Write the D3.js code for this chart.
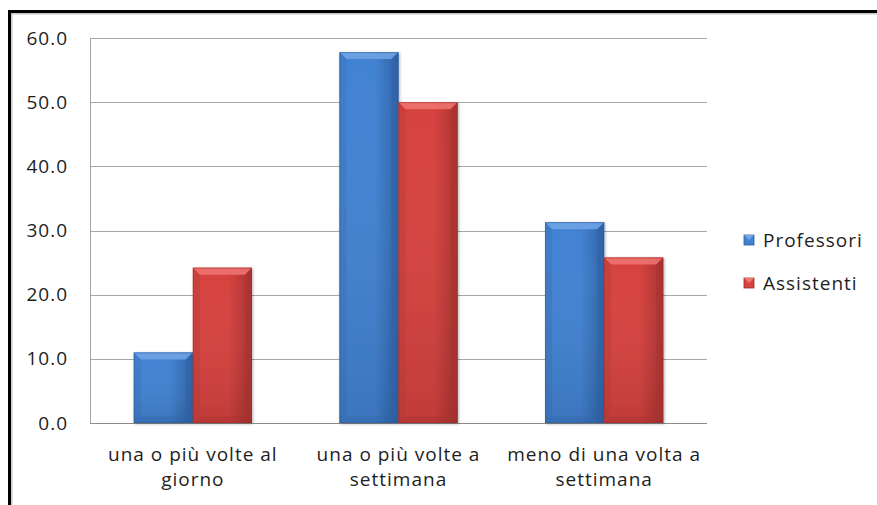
<!DOCTYPE html>
<html>
<head>
<meta charset="utf-8">
<script src="https://cdn.jsdelivr.net/npm/d3@7"></script>
<style>
  body { margin: 0; background: #fff; }
  svg { display: block; font-family: "Open Sans", sans-serif; }
</style>
</head>
<body>
<div id="chart"></div>
<script>
var categories = ["una o più volte al giorno", "una o più volte a settimana", "meno di una volta a settimana"];
var seriesNames = ["Professori", "Assistenti"];
var professori = [11.0, 57.8, 31.3];
var assistenti = [24.2, 50.0, 25.8];
var yTicks = [0, 10, 20, 30, 40, 50, 60];

var W = 877, H = 505;
var margin = {top: 38, left: 90, right: 170, bottom: 82};
var FONT = "'Open Sans', sans-serif";
var FS = 19, LS = 1;

var svg = d3.select("#chart").append("svg")
    .attr("width", W)
    .attr("height", H);

var defs = svg.append("defs");

// colours for each series: light, mid, dark
var palette = {
  Professori: {light: "#72a6e6", mid: "#4282d2", dark: "#2e63a6", edge: "#2a5a98"},
  Assistenti: {light: "#f07673", mid: "#d6423f", dark: "#a93230", edge: "#9c2c2a"}
};

seriesNames.forEach(function(s) {
  var c = palette[s];
  var g = defs.append("linearGradient").attr("id", "grad-" + s)
      .attr("x1", 0).attr("x2", 1).attr("y1", 0).attr("y2", 0);
  g.append("stop").attr("offset", "0%").attr("stop-color", c.mid);
  g.append("stop").attr("offset", "60%").attr("stop-color", c.mid);
  g.append("stop").attr("offset", "100%").attr("stop-color", c.dark);
  var gv = defs.append("linearGradient").attr("id", "vgrad-" + s)
      .attr("x1", 0).attr("x2", 0).attr("y1", 0).attr("y2", 1);
  gv.append("stop").attr("offset", "0%").attr("stop-color", "#fff").attr("stop-opacity", 0.0);
  gv.append("stop").attr("offset", "100%").attr("stop-color", "#000").attr("stop-opacity", 0.1);
});

var shadow = defs.append("filter").attr("id", "shadow")
    .attr("x", "-20%").attr("y", "-5%").attr("width", "140%").attr("height", "110%");
shadow.append("feGaussianBlur").attr("in", "SourceAlpha").attr("stdDeviation", 1.5);
shadow.append("feOffset").attr("dx", 1).attr("dy", 1).attr("result", "b");
shadow.append("feComponentTransfer").append("feFuncA").attr("type", "linear").attr("slope", 0.3);
var merge = shadow.append("feMerge");
merge.append("feMergeNode");
merge.append("feMergeNode").attr("in", "SourceGraphic");

// chart frame (black border top and left, with light shadow)
svg.append("path")
    .attr("d", "M10," + H + "V12H" + W)
    .attr("fill", "none")
    .attr("stroke", "#c8c8c8")
    .attr("stroke-width", 3)
    .attr("transform", "translate(1,1)");
svg.append("path")
    .attr("d", "M9.5," + H + "V11.5H" + W)
    .attr("fill", "none")
    .attr("stroke", "#000")
    .attr("stroke-width", 3);

var x0 = d3.scaleBand()
    .domain(categories)
    .range([margin.left, 707]);

var x1 = d3.scaleBand()
    .domain(seriesNames)
    .range([0, x0.bandwidth()])
    .paddingOuter(0.74);

var y = d3.scaleLinear()
    .domain([0, 60])
    .range([423, margin.top]);

// grid lines
svg.append("g")
  .selectAll("line")
  .data(yTicks)
  .join("line")
    .attr("x1", margin.left)
    .attr("x2", 707)
    .attr("y1", function(d) { return Math.round(y(d)) + 0.5; })
    .attr("y2", function(d) { return Math.round(y(d)) + 0.5; })
    .attr("stroke", function(d) { return d === 0 ? "#8c8c8c" : "#a6a6a6"; })
    .attr("stroke-width", 1);

// y axis line
svg.append("line")
    .attr("x1", margin.left + 0.5).attr("x2", margin.left + 0.5)
    .attr("y1", y(60)).attr("y2", y(0))
    .attr("stroke", "#a6a6a6");

// y tick labels
var yAxis = d3.axisLeft(y)
    .tickValues(yTicks)
    .tickFormat(d3.format(".1f"))
    .tickSize(0)
    .tickPadding(22);
var ya = svg.append("g")
    .attr("transform", "translate(" + margin.left + ",0)")
    .call(yAxis);
ya.select(".domain").remove();
ya.selectAll("text")
    .attr("font-family", FONT)
    .attr("font-size", FS)
    .attr("letter-spacing", LS)
    .attr("fill", "#1e1e1e");

// bars
var rows = categories.map(function(c, i) {
  return {cat: c, values: [{s: "Professori", v: professori[i]}, {s: "Assistenti", v: assistenti[i]}]};
});

var groups = svg.append("g")
  .selectAll("g")
  .data(rows)
  .join("g")
    .attr("transform", function(d) { return "translate(" + x0(d.cat) + ",0)"; });

var bars = groups.selectAll("g.bar")
  .data(function(d) { return d.values; })
  .join("g")
    .attr("class", "bar")
    .attr("filter", "url(#shadow)");

bars.each(function(d) {
  var g = d3.select(this);
  var c = palette[d.s];
  var bx = x1(d.s), bw = x1.bandwidth();
  var by = y(d.v), bh = y(0) - y(d.v);
  var b = 7; // bevel size
  g.append("rect")
      .attr("x", bx).attr("y", by).attr("width", bw).attr("height", bh)
      .attr("fill", "url(#grad-" + d.s + ")");
  g.append("rect")
      .attr("x", bx).attr("y", by).attr("width", bw).attr("height", bh)
      .attr("fill", "url(#vgrad-" + d.s + ")");
  // top bevel
  g.append("path")
      .attr("d", "M" + bx + "," + by + "H" + (bx + bw) + "L" + (bx + bw - b) + "," + (by + b) + "H" + (bx + b) + "Z")
      .attr("fill", c.light).attr("opacity", 0.85);
  // left bevel
  g.append("path")
      .attr("d", "M" + bx + "," + by + "L" + (bx + b) + "," + (by + b) + "V" + (by + bh - b) + "L" + bx + "," + (by + bh) + "Z")
      .attr("fill", c.dark).attr("opacity", 0.25);
  // right bevel
  g.append("path")
      .attr("d", "M" + (bx + bw) + "," + by + "L" + (bx + bw - b) + "," + (by + b) + "V" + (by + bh - b) + "L" + (bx + bw) + "," + (by + bh) + "Z")
      .attr("fill", c.dark).attr("opacity", 0.6);
  // bottom bevel
  g.append("path")
      .attr("d", "M" + bx + "," + (by + bh) + "H" + (bx + bw) + "L" + (bx + bw - b) + "," + (by + bh - b) + "H" + (bx + b) + "Z")
      .attr("fill", c.dark).attr("opacity", 0.3);
  g.append("rect")
      .attr("x", bx + 0.5).attr("y", by + 0.5).attr("width", bw - 1).attr("height", bh - 1)
      .attr("fill", "none").attr("stroke", c.edge).attr("stroke-opacity", 0.5);
});

// category labels, wrapped to two lines
var xLabels = svg.append("g")
  .selectAll("text")
  .data(categories)
  .join("text")
    .attr("x", function(d) { return x0(d) + x0.bandwidth() / 2; })
    .attr("y", 461)
    .attr("text-anchor", "middle")
    .attr("font-family", FONT)
    .attr("font-size", FS)
    .attr("letter-spacing", LS)
    .attr("fill", "#1e1e1e");

xLabels.each(function(d) {
  var t = d3.select(this);
  var words = d.split(" ");
  var line = [], lines = [];
  var tmp = t.append("tspan");
  words.forEach(function(w) {
    line.push(w);
    tmp.text(line.join(" "));
    if (tmp.node().getComputedTextLength() > 205 && line.length > 1) {
      line.pop();
      lines.push(line.join(" "));
      line = [w];
    }
  });
  lines.push(line.join(" "));
  tmp.remove();
  lines.forEach(function(l, i) {
    t.append("tspan")
        .attr("x", x0(d) + x0.bandwidth() / 2)
        .attr("dy", i === 0 ? 0 : 25)
        .text(l);
  });
});

// legend
var legend = svg.append("g")
  .selectAll("g")
  .data(seriesNames)
  .join("g")
    .attr("transform", function(d, i) { return "translate(744," + (235 + i * 43) + ")"; });

legend.append("rect")
    .attr("width", 10).attr("height", 10)
    .attr("fill", function(d) { return palette[d].mid; })
    .attr("stroke", function(d) { return palette[d].edge; })
    .attr("stroke-width", 0.8);
legend.append("path")
    .attr("d", "M0,0H10L5,5Z")
    .attr("fill", function(d) { return palette[d].light; });
legend.append("text")
    .attr("x", 19)
    .attr("y", 5)
    .attr("dy", "0.35em")
    .attr("font-family", FONT)
    .attr("font-size", FS)
    .attr("letter-spacing", LS)
    .attr("fill", "#1e1e1e")
    .text(function(d) { return d; });
</script>
</body>
</html>
